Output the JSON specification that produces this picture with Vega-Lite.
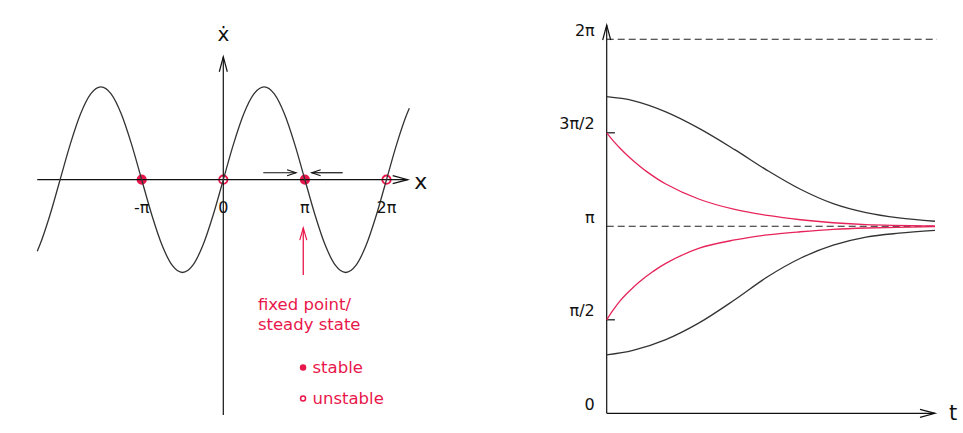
{
  "$schema": "https://vega.github.io/schema/vega-lite/v6.json",
  "width": 963,
  "height": 433,
  "autosize": {"type": "fit", "contains": "padding"},
  "padding": 0,
  "background": "#ffffff",
  "config": {
    "view": {"stroke": null},
    "font": "DejaVu Sans",
    "axis": {"disable": true}
  },
  "datasets": {
    "velocity": [
      {"u": -2.28, "s": -0.770}, {"u": -2.25, "s": -0.707}, {"u": -2.125, "s": -0.383},
      {"u": -2.0, "s": 0.0}, {"u": -1.875, "s": 0.383}, {"u": -1.75, "s": 0.707},
      {"u": -1.625, "s": 0.924}, {"u": -1.5, "s": 1.0}, {"u": -1.375, "s": 0.924},
      {"u": -1.25, "s": 0.707}, {"u": -1.125, "s": 0.383}, {"u": -1.0, "s": 0.0},
      {"u": -0.875, "s": -0.383}, {"u": -0.75, "s": -0.707}, {"u": -0.625, "s": -0.924},
      {"u": -0.5, "s": -1.0}, {"u": -0.375, "s": -0.924}, {"u": -0.25, "s": -0.707},
      {"u": -0.125, "s": -0.383}, {"u": 0.0, "s": 0.0}, {"u": 0.125, "s": 0.383},
      {"u": 0.25, "s": 0.707}, {"u": 0.375, "s": 0.924}, {"u": 0.5, "s": 1.0},
      {"u": 0.625, "s": 0.924}, {"u": 0.75, "s": 0.707}, {"u": 0.875, "s": 0.383},
      {"u": 1.0, "s": 0.0}, {"u": 1.125, "s": -0.383}, {"u": 1.25, "s": -0.707},
      {"u": 1.375, "s": -0.924}, {"u": 1.5, "s": -1.0}, {"u": 1.625, "s": -0.924},
      {"u": 1.75, "s": -0.707}, {"u": 1.875, "s": -0.383}, {"u": 2.0, "s": 0.0},
      {"u": 2.125, "s": 0.383}, {"u": 2.25, "s": 0.707}, {"u": 2.28, "s": 0.770}
    ],
    "fixedPoints": [
      {"u": -1, "s": 0, "label": "-π", "kind": "stable"},
      {"u": 0, "s": 0, "label": "0", "kind": "unstable"},
      {"u": 1, "s": 0, "label": "π", "kind": "stable"},
      {"u": 2, "s": 0, "label": "2π", "kind": "unstable"}
    ],
    "phaseAxes": [
      {"u": -2.28, "s": 0, "u2": 2.26, "s2": 0},
      {"u": 0, "s": -2.536, "u2": 0, "s2": 1.325},
      {"u": 0.49, "s": 0.075, "u2": 0.892, "s2": 0.075},
      {"u": 1.463, "s": 0.075, "u2": 1.083, "s2": 0.075}
    ],
    "trajectories": [
      {"curve": "a", "start": "between", "t": 0, "v": 1.693},
      {"curve": "a", "start": "between", "t": 0.8, "v": 1.672},
      {"curve": "a", "start": "between", "t": 1.8, "v": 1.612},
      {"curve": "a", "start": "between", "t": 2.8, "v": 1.525},
      {"curve": "a", "start": "between", "t": 3.9, "v": 1.41},
      {"curve": "a", "start": "between", "t": 4.9, "v": 1.298},
      {"curve": "a", "start": "between", "t": 5.9, "v": 1.198},
      {"curve": "a", "start": "between", "t": 6.9, "v": 1.121},
      {"curve": "a", "start": "between", "t": 7.9, "v": 1.073},
      {"curve": "a", "start": "between", "t": 8.9, "v": 1.045},
      {"curve": "a", "start": "between", "t": 10, "v": 1.027},
      {"curve": "b", "start": "tick", "t": 0, "v": 1.5},
      {"curve": "b", "start": "tick", "t": 0.2, "v": 1.457},
      {"curve": "b", "start": "tick", "t": 0.4, "v": 1.419},
      {"curve": "b", "start": "tick", "t": 0.6, "v": 1.384},
      {"curve": "b", "start": "tick", "t": 0.8, "v": 1.352},
      {"curve": "b", "start": "tick", "t": 1.2, "v": 1.295},
      {"curve": "b", "start": "tick", "t": 1.8, "v": 1.226},
      {"curve": "b", "start": "tick", "t": 2.8, "v": 1.146},
      {"curve": "b", "start": "tick", "t": 3.9, "v": 1.09},
      {"curve": "b", "start": "tick", "t": 4.9, "v": 1.058},
      {"curve": "b", "start": "tick", "t": 5.9, "v": 1.035},
      {"curve": "b", "start": "tick", "t": 6.9, "v": 1.019},
      {"curve": "b", "start": "tick", "t": 7.9, "v": 1.009},
      {"curve": "b", "start": "tick", "t": 10, "v": 1.002},
      {"curve": "c", "start": "tick", "t": 0, "v": 0.5},
      {"curve": "c", "start": "tick", "t": 0.2, "v": 0.553},
      {"curve": "c", "start": "tick", "t": 0.4, "v": 0.6},
      {"curve": "c", "start": "tick", "t": 0.6, "v": 0.638},
      {"curve": "c", "start": "tick", "t": 1.0, "v": 0.704},
      {"curve": "c", "start": "tick", "t": 1.4, "v": 0.757},
      {"curve": "c", "start": "tick", "t": 1.8, "v": 0.802},
      {"curve": "c", "start": "tick", "t": 2.8, "v": 0.882},
      {"curve": "c", "start": "tick", "t": 3.9, "v": 0.927},
      {"curve": "c", "start": "tick", "t": 4.9, "v": 0.954},
      {"curve": "c", "start": "tick", "t": 5.9, "v": 0.971},
      {"curve": "c", "start": "tick", "t": 6.9, "v": 0.984},
      {"curve": "c", "start": "tick", "t": 7.9, "v": 0.991},
      {"curve": "c", "start": "tick", "t": 10, "v": 0.998},
      {"curve": "d", "start": "between", "t": 0, "v": 0.312},
      {"curve": "d", "start": "between", "t": 0.8, "v": 0.336},
      {"curve": "d", "start": "between", "t": 1.8, "v": 0.394},
      {"curve": "d", "start": "between", "t": 2.8, "v": 0.482},
      {"curve": "d", "start": "between", "t": 3.9, "v": 0.607},
      {"curve": "d", "start": "between", "t": 4.9, "v": 0.73},
      {"curve": "d", "start": "between", "t": 5.9, "v": 0.829},
      {"curve": "d", "start": "between", "t": 6.9, "v": 0.899},
      {"curve": "d", "start": "between", "t": 7.9, "v": 0.942},
      {"curve": "d", "start": "between", "t": 8.9, "v": 0.963},
      {"curve": "d", "start": "between", "t": 10, "v": 0.978}
    ],
    "timeAxes": [
      {"t": 0, "v": 0, "t2": 0, "v2": 2.0765},
      {"t": 0, "v": 0, "t2": 10, "v2": 0},
      {"t": 0, "v": 0.5, "t2": 0.25, "v2": 0.5},
      {"t": 0, "v": 1.5, "t2": 0.25, "v2": 1.5}
    ],
    "steadyLevels": [
      {"t": 0, "v": 2, "t2": 10.06, "v2": 2},
      {"t": 0, "v": 1, "t2": 10, "v2": 1}
    ],
    "levelLabels": [
      {"t": 0, "v": 0, "label": "0"},
      {"t": 0, "v": 0.5, "label": "π/2"},
      {"t": 0, "v": 1, "label": "π"},
      {"t": 0, "v": 1.5, "label": "3π/2"},
      {"t": 0, "v": 2, "label": "2π"}
    ]
  },
  "resolve": {"scale": {"x": "independent", "y": "independent"}},
  "layer": [
    {
      "encoding": {
        "x": {"field": "u", "type": "quantitative", "scale": {"domain": [-2.7365, 9.065], "nice": false, "zero": false}, "axis": null},
        "y": {"field": "s", "type": "quantitative", "scale": {"domain": [-2.7295, 1.9364], "nice": false, "zero": false}, "axis": null}
      },
      "layer": [
        {
          "data": {"name": "fixedPoints"},
          "mark": {"type": "point", "shape": "circle", "filled": true, "size": 70, "stroke": "#e8174b", "strokeWidth": 1.8, "opacity": 1},
          "encoding": {
            "fill": {
              "field": "kind", "type": "nominal",
              "scale": {"domain": ["stable", "unstable"], "range": ["#e8174b", "transparent"]},
              "legend": {
                "orient": "none", "legendX": 294.8, "legendY": 359.3, "title": null, "padding": 0,
                "labelColor": "#e8174b", "labelFont": "DejaVu Sans", "labelFontSize": 16.5,
                "symbolType": "circle", "symbolSize": 25, "symbolStrokeColor": "#e8174b", "symbolStrokeWidth": 1.5,
                "labelOffset": 1.2, "rowPadding": 14
              }
            }
          }
        },
        {
          "data": {"name": "phaseAxes"},
          "mark": {"type": "rule", "color": "#111111", "strokeWidth": 1.2},
          "encoding": {"x2": {"field": "u2"}, "y2": {"field": "s2"}}
        },
        {
          "data": {"name": "velocity"},
          "mark": {"type": "line", "color": "#333333", "strokeWidth": 1.3, "interpolate": "monotone"}
        },
        {
          "data": {"values": [{"u": 0.98, "s": -1.027, "u2": 0.98, "s2": -0.52}]},
          "mark": {"type": "rule", "color": "#e8174b", "strokeWidth": 1.3},
          "encoding": {"x2": {"field": "u2"}, "y2": {"field": "s2"}}
        },
        {
          "data": {"values": [{"u": 0.98, "s": -0.52}]},
          "mark": {"type": "point", "shape": "M-3.5,-1L0,0L-3.5,1", "size": 49, "filled": false, "stroke": "#e8174b", "strokeWidth": 1.2, "opacity": 1, "angle": 270}
        },
        {
          "data": {"values": [{"u": 2.26, "s": 0}]},
          "mark": {"type": "point", "shape": "M-3.75,-1L0,0L-3.75,1", "size": 64, "filled": false, "stroke": "#111111", "strokeWidth": 1.2, "opacity": 1, "angle": 0}
        },
        {
          "data": {"values": [{"u": 0, "s": 1.325}]},
          "mark": {"type": "point", "shape": "M-3.75,-1L0,0L-3.75,1", "size": 64, "filled": false, "stroke": "#111111", "strokeWidth": 1.2, "opacity": 1, "angle": 270}
        },
        {
          "data": {"values": [{"u": 0.892, "s": 0.075}]},
          "mark": {"type": "point", "shape": "M-3,-1L0,0L-3,1", "size": 36, "filled": false, "stroke": "#111111", "strokeWidth": 1.1, "opacity": 1, "angle": 0}
        },
        {
          "data": {"values": [{"u": 1.083, "s": 0.075}]},
          "mark": {"type": "point", "shape": "M-3,-1L0,0L-3,1", "size": 36, "filled": false, "stroke": "#111111", "strokeWidth": 1.1, "opacity": 1, "angle": 180}
        },
        {
          "data": {"name": "fixedPoints"},
          "mark": {"type": "text", "dy": 28, "fontSize": 16, "color": "#111111", "align": "center", "baseline": "middle"},
          "encoding": {"text": {"field": "label"}}
        },
        {
          "data": {"values": [{"u": 0, "s": 1.325, "label": "ẋ"}]},
          "mark": {"type": "text", "dy": -22, "fontSize": 20, "color": "#111111", "align": "center", "baseline": "middle"},
          "encoding": {"text": {"field": "label"}}
        },
        {
          "data": {"values": [{"u": 2.26, "s": 0, "label": "x"}]},
          "mark": {"type": "text", "dx": 13, "dy": 2, "fontSize": 22, "color": "#111111", "align": "center", "baseline": "middle"},
          "encoding": {"text": {"field": "label"}}
        },
        {
          "data": {"values": [{"u": 1, "s": 0}]},
          "mark": {"type": "text", "dx": -47, "dy": 130, "fontSize": 16.5, "lineHeight": 20, "color": "#e8174b", "align": "left", "baseline": "alphabetic"},
          "encoding": {"text": {"value": ["fixed point/", "steady state"]}}
        }
      ]
    },
    {
      "encoding": {
        "x": {"field": "t", "type": "quantitative", "scale": {"domain": [-18.48, 10.853], "nice": false, "zero": false}, "axis": null},
        "y": {"field": "v", "type": "quantitative", "scale": {"domain": [-0.1053, 2.2102], "nice": false, "zero": false}, "axis": null}
      },
      "layer": [
        {
          "data": {"name": "steadyLevels"},
          "mark": {"type": "rule", "color": "#222222", "strokeWidth": 1.1, "strokeDash": [7, 4]},
          "encoding": {"x2": {"field": "t2"}, "y2": {"field": "v2"}}
        },
        {
          "data": {"name": "timeAxes"},
          "mark": {"type": "rule", "color": "#111111", "strokeWidth": 1.2},
          "encoding": {"x2": {"field": "t2"}, "y2": {"field": "v2"}}
        },
        {
          "data": {"name": "trajectories"},
          "mark": {"type": "line", "strokeWidth": 1.3, "interpolate": "catmull-rom"},
          "encoding": {
            "detail": {"field": "curve", "type": "nominal"},
            "color": {"field": "start", "type": "nominal", "scale": {"domain": ["between", "tick"], "range": ["#333333", "#e6245a"]}, "legend": null}
          }
        },
        {
          "data": {"values": [{"t": 10, "v": 0}]},
          "mark": {"type": "point", "shape": "M-3.75,-1L0,0L-3.75,1", "size": 64, "filled": false, "stroke": "#111111", "strokeWidth": 1.2, "opacity": 1, "angle": 0}
        },
        {
          "data": {"values": [{"t": 0, "v": 2.0765}]},
          "mark": {"type": "point", "shape": "M-3.75,-1L0,0L-3.75,1", "size": 64, "filled": false, "stroke": "#111111", "strokeWidth": 1.2, "opacity": 1, "angle": 270}
        },
        {
          "data": {"name": "levelLabels"},
          "mark": {"type": "text", "dx": -12, "dy": -8.5, "fontSize": 16, "color": "#111111", "align": "right", "baseline": "middle"},
          "encoding": {"text": {"field": "label"}}
        },
        {
          "data": {"values": [{"t": 10, "v": 0, "label": "t"}]},
          "mark": {"type": "text", "dx": 18, "dy": 1, "fontSize": 21, "color": "#111111", "align": "center", "baseline": "middle"},
          "encoding": {"text": {"field": "label"}}
        }
      ]
    }
  ]
}
